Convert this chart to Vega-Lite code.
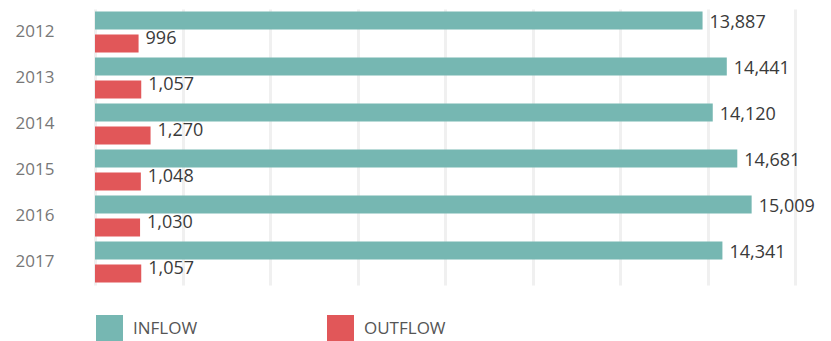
{
  "$schema": "https://vega.github.io/schema/vega-lite/v6.json",
  "width": 700,
  "height": 276,
  "autosize": "none",
  "padding": {"left": 95, "top": 9, "right": 36, "bottom": 56},
  "background": "white",
  "config": {"view": {"stroke": null}, "font": "Open Sans"},
  "data": {
    "values": [
      {"year": "2012", "flow": "INFLOW", "value": 13887},
      {"year": "2012", "flow": "OUTFLOW", "value": 996},
      {"year": "2013", "flow": "INFLOW", "value": 14441},
      {"year": "2013", "flow": "OUTFLOW", "value": 1057},
      {"year": "2014", "flow": "INFLOW", "value": 14120},
      {"year": "2014", "flow": "OUTFLOW", "value": 1270},
      {"year": "2015", "flow": "INFLOW", "value": 14681},
      {"year": "2015", "flow": "OUTFLOW", "value": 1048},
      {"year": "2016", "flow": "INFLOW", "value": 15009},
      {"year": "2016", "flow": "OUTFLOW", "value": 1030},
      {"year": "2017", "flow": "INFLOW", "value": 14341},
      {"year": "2017", "flow": "OUTFLOW", "value": 1057}
    ]
  },
  "encoding": {
    "y": {
      "field": "year", "type": "ordinal", "sort": "ascending",
      "scale": {"paddingInner": 0, "paddingOuter": 0},
      "axis": {"title": null, "domain": false, "ticks": false, "labelPadding": 41, "labelFontSize": 17, "labelColor": "#777777", "labelFont": "Open Sans"}
    },
    "yOffset": {
      "field": "flow", "type": "nominal",
      "scale": {"domain": ["INFLOW", "OUTFLOW"], "paddingInner": 0.217, "paddingOuter": 0.1087}
    },
    "x": {
      "field": "value", "type": "quantitative",
      "scale": {"domain": [0, 16000], "nice": false},
      "axis": {"title": null, "labels": false, "ticks": false, "domain": false, "values": [0, 2000, 4000, 6000, 8000, 10000, 12000, 14000, 16000], "gridColor": "#f0f0f0", "gridWidth": 3}
    }
  },
  "layer": [
    {
      "mark": {"type": "bar", "opacity": 1},
      "encoding": {
        "color": {
          "field": "flow", "type": "nominal",
          "scale": {"domain": ["INFLOW", "OUTFLOW"], "range": ["#76b7b2", "#e15759"]},
          "legend": {
            "title": null, "orient": "none", "direction": "horizontal",
            "legendX": 1, "legendY": 306,
            "symbolType": "square", "symbolSize": 729, "symbolStrokeWidth": 0, "symbolOpacity": 1,
            "labelFontSize": 17, "labelColor": "#555555", "labelFont": "Open Sans", "labelOffset": 10,
            "columnPadding": 129, "padding": 0
          }
        }
      }
    },
    {
      "transform": [{"filter": "datum.flow === 'INFLOW'"}],
      "mark": {"type": "text", "align": "left", "baseline": "middle", "dx": 7, "dy": 2, "fontSize": 18, "color": "#3a3a3a"},
      "encoding": {"text": {"field": "value", "type": "quantitative", "format": ","}}
    },
    {
      "transform": [{"filter": "datum.flow === 'OUTFLOW'"}],
      "mark": {"type": "text", "align": "left", "baseline": "middle", "dx": 7, "dy": -4, "fontSize": 18, "color": "#3a3a3a"},
      "encoding": {"text": {"field": "value", "type": "quantitative", "format": ","}}
    }
  ]
}
